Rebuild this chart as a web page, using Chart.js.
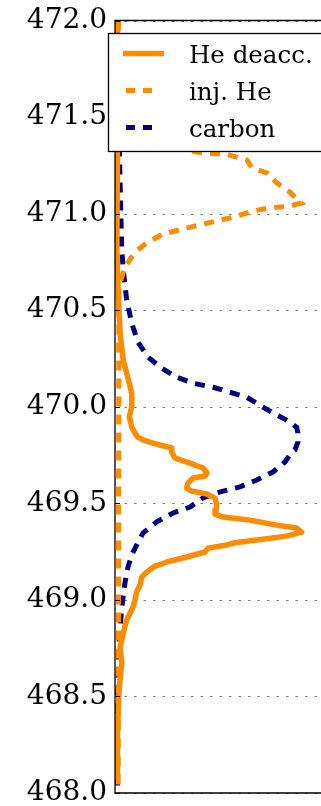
<!DOCTYPE html>
<html>
<head>
<meta charset="utf-8">
<script src="https://cdn.jsdelivr.net/npm/chart.js@4.4.0/dist/chart.umd.min.js"></script>
<style>
  html, body { margin: 0; padding: 0; background: #fff; overflow: hidden; }
  canvas { display: block; }
</style>
</head>
<body>
<canvas id="c" width="321" height="806"></canvas>
<script>
// Line profiles: frequency on the vertical axis, normalised intensity horizontally.
const seriesNames = ['He deacc.', 'inj. He', 'carbon'];
const freqTicks = [468.0, 468.5, 469.0, 469.5, 470.0, 470.5, 471.0, 471.5, 472.0];

const heDeaccFreq = [472.0, 471.33, 470.81, 470.55, 470.38, 470.24, 470.14, 470.07, 470.00, 469.95,
  469.895, 469.864, 469.843, 469.828, 469.812, 469.802, 469.786, 469.765, 469.734, 469.708,
  469.683, 469.657, 469.641, 469.631, 469.605, 469.579, 469.563, 469.548, 469.527, 469.491,
  469.465, 469.444, 469.429, 469.413, 469.387, 469.372, 469.351, 469.330, 469.310, 469.294,
  469.284, 469.268, 469.248, 469.222, 469.196, 469.170, 469.144, 469.118, 469.077, 469.041,
  469.000, 468.963, 468.896, 468.829, 468.756, 468.673, 468.548, 468.445, 468.310, 468.082];
const heDeaccInt = [0.013, 0.013, 0.010, 0.018, 0.027, 0.044, 0.071, 0.089, 0.089, 0.076,
  0.089, 0.106, 0.122, 0.149, 0.202, 0.239, 0.302, 0.302, 0.319, 0.399,
  0.468, 0.489, 0.479, 0.415, 0.388, 0.381, 0.408, 0.488, 0.532, 0.541,
  0.537, 0.532, 0.574, 0.718, 0.860, 0.966, 0.993, 0.913, 0.754, 0.628,
  0.594, 0.495, 0.479, 0.381, 0.275, 0.202, 0.169, 0.142, 0.133, 0.115,
  0.106, 0.096, 0.062, 0.044, 0.027, 0.036, 0.023, 0.018, 0.013, 0.013];

const injHeFreq = [472.0, 471.8, 471.6, 471.5, 471.45, 471.40, 471.36, 471.33, 471.318, 471.31,
  471.303, 471.278, 471.236, 471.210, 471.159, 471.112, 471.071, 471.055, 471.039, 471.029,
  471.013, 470.982, 470.962, 470.941, 470.920, 470.894, 470.853, 470.801, 470.723, 470.65,
  470.60, 470.3, 470.0, 469.5, 469.0, 468.6, 468.0];
const injHeInt = [0.018, 0.018, 0.019, 0.025, 0.05, 0.13, 0.25, 0.38, 0.44, 0.54,
  0.61, 0.70, 0.73, 0.81, 0.86, 0.93, 0.97, 0.99, 0.93, 0.82,
  0.73, 0.63, 0.54, 0.45, 0.36, 0.255, 0.175, 0.106, 0.053, 0.030,
  0.021, 0.020, 0.020, 0.019, 0.019, 0.018, 0.017];

const carbonFreq = [472.0, 471.59, 471.07, 470.812, 470.708, 470.553, 470.433, 470.335, 470.257, 470.200,
  470.153, 470.122, 470.101, 470.075, 470.049, 470.008, 469.967, 469.931, 469.894, 469.864,
  469.817, 469.776, 469.765, 469.714, 469.662, 469.621, 469.585, 469.559, 469.528, 469.481,
  469.450, 469.404, 469.346, 469.284, 469.232, 469.170, 469.088, 469.0, 468.895, 468.792,
  468.652, 468.481, 468.310, 468.036];
const carbonInt = [0.014, 0.018, 0.029, 0.036, 0.044, 0.062, 0.089, 0.122, 0.176, 0.248,
  0.328, 0.415, 0.521, 0.612, 0.701, 0.771, 0.840, 0.913, 0.966, 0.973,
  0.973, 0.957, 0.940, 0.904, 0.840, 0.754, 0.665, 0.559, 0.468, 0.399,
  0.309, 0.222, 0.149, 0.115, 0.089, 0.069, 0.053, 0.041, 0.030, 0.023,
  0.018, 0.014, 0.013, 0.013];

const toPoints = (freq, inten) => freq.map((f, i) => ({ x: inten[i], y: f }));

const SERIF = '"DejaVu Serif", "Liberation Serif", serif';
const ORANGE = '#ff8c00';
const NAVY = '#000080';

// Axes frame, dotted grid, inward ticks and a boxed legend, drawn the classic way.
const framePlugin = {
  id: 'frame',
  beforeDatasetsDraw(chart) {
    const { ctx, chartArea: a, scales: { y } } = chart;
    ctx.save();
    ctx.strokeStyle = '#7a7a7a';
    ctx.lineWidth = 1;
    ctx.setLineDash([2.5, 7]);
    y.ticks.forEach(t => {
      const py = Math.round(y.getPixelForValue(t.value)) + 0.5;
      ctx.beginPath();
      ctx.moveTo(a.left, py);
      ctx.lineTo(a.right, py);
      ctx.stroke();
    });
    ctx.restore();
  },
  afterDatasetsDraw(chart) {
    const { ctx, chartArea: a, scales: { y } } = chart;
    ctx.save();
    ctx.strokeStyle = '#000';
    ctx.lineWidth = 1.3;
    ctx.setLineDash([]);
    ctx.beginPath();
    ctx.moveTo(a.right + 2, a.top);
    ctx.lineTo(a.left, a.top);
    ctx.lineTo(a.left, a.bottom);
    ctx.lineTo(a.right + 2, a.bottom);
    ctx.stroke();
    ctx.lineWidth = 1;
    y.ticks.forEach(t => {
      const py = Math.round(y.getPixelForValue(t.value)) + 0.5;
      ctx.beginPath();
      ctx.moveTo(a.left, py);
      ctx.lineTo(a.left + 5, py);
      ctx.stroke();
    });
    ctx.restore();
  },
  afterDraw(chart) {
    const { ctx } = chart;
    const box = { x: 108, y: 33, w: 240, h: 118 };
    ctx.save();
    ctx.fillStyle = '#fff';
    ctx.fillRect(box.x, box.y, box.w, box.h);
    ctx.strokeStyle = '#000';
    ctx.lineWidth = 1.3;
    ctx.strokeRect(box.x + 0.5, box.y + 0.5, box.w, box.h);
    const rows = [53.5, 90.5, 127.5];
    chart.data.datasets.forEach((ds, i) => {
      const ry = rows[i];
      ctx.strokeStyle = ds.borderColor;
      ctx.lineWidth = ds.borderWidth;
      ctx.lineCap = 'butt';
      ctx.beginPath();
      if (ds.borderDash && ds.borderDash.length) {
        ctx.setLineDash([9, 8]);
        ctx.moveTo(126, ry);
        ctx.lineTo(153, ry);
      } else {
        ctx.setLineDash([]);
        ctx.moveTo(123, ry);
        ctx.lineTo(164, ry);
      }
      ctx.stroke();
      ctx.setLineDash([]);
      ctx.fillStyle = '#000';
      ctx.font = '24.5px ' + SERIF;
      ctx.textAlign = 'left';
      ctx.textBaseline = 'alphabetic';
      ctx.fillText(ds.label, 189, ry + 9.3);
    });
    ctx.restore();
  }
};

new Chart(document.getElementById('c'), {
  type: 'scatter',
  data: {
    datasets: [
      {
        label: seriesNames[0],
        data: toPoints(heDeaccFreq, heDeaccInt),
        borderColor: ORANGE,
        borderWidth: 5.5,
        borderJoinStyle: 'round',
        borderCapStyle: 'round'
      },
      {
        label: seriesNames[1],
        data: toPoints(injHeFreq, injHeInt),
        borderColor: ORANGE,
        borderWidth: 5,
        borderDash: [10, 8]
      },
      {
        label: seriesNames[2],
        data: toPoints(carbonFreq, carbonInt),
        borderColor: NAVY,
        borderWidth: 5,
        borderDash: [10, 8]
      }
    ].map(ds => Object.assign({
      showLine: true,
      pointRadius: 0,
      pointHoverRadius: 0,
      tension: 0,
      fill: false,
      backgroundColor: ds.borderColor
    }, ds))
  },
  options: {
    responsive: false,
    animation: false,
    devicePixelRatio: 1,
    layout: { padding: { top: 20.5, bottom: 13, left: 0, right: 0 } },
    plugins: {
      legend: { display: false },
      tooltip: { enabled: false }
    },
    scales: {
      x: {
        type: 'linear',
        display: false,
        min: 0,
        max: 1.0957
      },
      y: {
        type: 'linear',
        position: 'left',
        min: freqTicks[0],
        max: freqTicks[freqTicks.length - 1],
        afterBuildTicks(scale) {
          scale.ticks = freqTicks.map(v => ({ value: v }));
        },
        afterFit(scale) {
          scale.width = 115;
          scale.paddingTop = 0;
          scale.paddingBottom = 0;
        },
        grid: { display: false, drawTicks: false },
        border: { display: false },
        ticks: {
          padding: 8,
          color: '#000',
          font: { family: SERIF, size: 28 },
          callback: v => Number(v).toFixed(1)
        }
      }
    }
  },
  plugins: [framePlugin]
});
</script>
</body>
</html>
